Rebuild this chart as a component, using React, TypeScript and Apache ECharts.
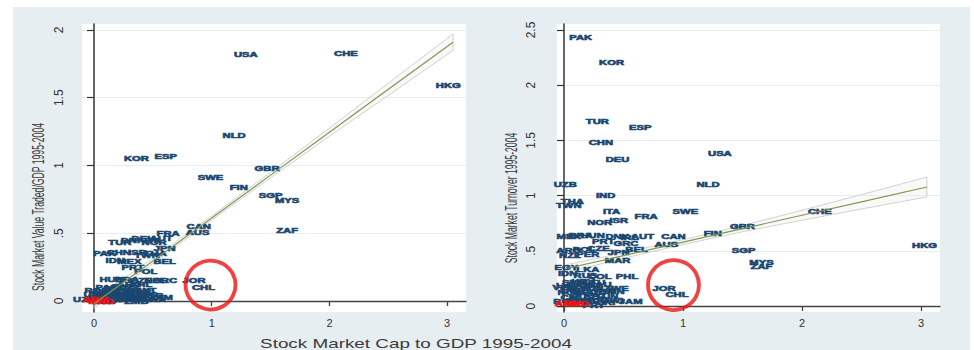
import React, { useEffect, useRef } from "react";
import * as echarts from "echarts";

// ---------- Data ----------
// Left panel: Stock Market Cap to GDP (x) vs Value Traded / GDP (y)
const leftCodes = [
  "USA","CHE","HKG","NLD","KOR","ESP","GBR","SWE","FIN","SGP","MYS","ZAF","CAN","AUS","FRA",
  "TUR","DNK","DEU","ITA","AUT","NOR","JPN","PAK","CHN","ISR","TWN","THA","IDN","MEX","BEL",
  "PRT","POL","HUN","BRA","CZE","NZL","GRC","JOR","CHL","PHL","ARG","PER","COL","EGY","MAR",
  "RUS","VEN","TTO","LKA","KEN","ZWE","JAM","NGA","BGD","GHA","MUS","CIV","NPL","ECU","UZB",
  "SVK","SVN","HRV","LTU","LVA","EST","ROM","BGR","UKR","KAZ","TUN","OMN","KWT","SAU","URY",
  "PAN","CRI","SLV","PRY","MWI","ZMB","TZA","MNG","BWA"
];
const leftCap = [
  1.29,2.14,3.01,1.19,0.36,0.61,1.47,0.99,1.23,1.50,1.64,1.64,0.89,0.88,0.63,
  0.22,0.33,0.42,0.50,0.57,0.51,0.60,0.09,0.21,0.37,0.45,0.52,0.18,0.30,0.60,
  0.33,0.44,0.15,0.28,0.40,0.52,0.60,0.85,0.93,0.40,0.30,0.18,0.23,0.30,0.38,
  0.28,0.14,0.45,0.12,0.30,0.38,0.57,0.20,0.06,0.14,0.25,0.12,0.03,0.08,-0.08,
  0.05,0.10,0.16,0.04,0.09,0.20,0.03,0.14,0.22,0.26,0.18,0.35,0.42,0.33,0.01,
  0.11,0.07,0.24,0.16,0.27,0.36,0.44,0.48,0.50
];
const leftTraded = [
  1.82,1.83,1.59,1.22,1.05,1.07,0.98,0.91,0.84,0.78,0.74,0.52,0.553,0.51,0.50,
  0.43,0.45,0.46,0.45,0.46,0.43,0.39,0.35,0.36,0.36,0.34,0.35,0.30,0.29,0.29,
  0.25,0.22,0.16,0.16,0.15,0.15,0.155,0.155,0.10,0.12,0.12,0.09,0.07,0.08,0.07,
  0.10,0.05,0.05,0.04,0.03,0.03,0.03,0.02,0.01,0.02,0.04,0.00,0.01,0.00,0.01,
  0.06,0.07,0.06,0.03,0.02,0.05,0.08,0.04,0.02,0.06,0.01,0.05,0.08,0.02,0.05,
  0.10,0.04,0.11,0.01,0.01,0.00,0.02,0.04,0.01
];
const leftRedCodes = ["ARM","MKD"];
const leftRedCap = [0.01,0.06];
const leftRedTraded = [0.01,0.0];

// Right panel: Stock Market Cap to GDP (x) vs Turnover (y)
const rightCodes = [
  "PAK","KOR","TUR","ESP","CHN","DEU","USA","UZB","NLD","IND","THA","TWN","ITA","SWE","FRA",
  "NOR","ISR","CHE","GBR","FIN","CAN","MEX","HUN","BRA","DNK","IRL","AUT","PRT","GRC","AUS",
  "HKG","SGP","ARG","POL","CZE","JPN","BEL","NZL","PER","MYS","ZAF","MAR","EGY","IDN","LKA",
  "PHL","RUS","COL","VEN","KEN","TTO","SLV","ZWE","JOR","CHL","NGA","BGD","GHA","CIV","MUS",
  "ECU","SVK","JAM","SVN","HRV","LTU","LVA","EST","ROM","BGR","UKR","KAZ","TUN","OMN","KWT",
  "SAU","PAN","CRI","PRY","MWI"
];
const rightCap = [
  0.14,0.40,0.28,0.64,0.31,0.45,1.31,0.01,1.21,0.35,0.07,0.04,0.40,1.02,0.69,
  0.30,0.46,2.15,1.50,1.25,0.92,0.04,0.24,0.14,0.45,0.55,0.66,0.33,0.52,0.86,
  3.03,1.51,0.04,0.17,0.29,0.46,0.61,0.05,0.20,1.66,1.66,0.45,0.02,0.03,0.20,
  0.53,0.18,0.30,0.00,0.12,0.22,0.33,0.44,0.84,0.95,0.05,0.18,0.32,0.05,0.15,
  0.27,0.12,0.56,0.08,0.16,0.26,0.02,0.10,0.02,0.20,0.08,0.26,0.36,0.40,0.20,
  0.30,0.13,0.35,0.25,0.40
];
const rightTurnover = [
  2.43,2.21,1.67,1.62,1.48,1.33,1.38,1.10,1.10,1.00,0.95,0.91,0.86,0.86,0.81,
  0.76,0.78,0.86,0.72,0.66,0.63,0.63,0.64,0.64,0.63,0.62,0.63,0.59,0.57,0.56,
  0.55,0.50,0.50,0.51,0.52,0.49,0.51,0.46,0.47,0.40,0.36,0.41,0.35,0.30,0.33,
  0.27,0.28,0.27,0.17,0.16,0.16,0.16,0.16,0.16,0.11,0.12,0.12,0.13,0.08,0.08,
  0.05,0.05,0.04,0.21,0.22,0.21,0.19,0.03,0.04,0.04,0.14,0.10,0.09,0.13,0.19,
  0.20,0.20,0.03,0.01,0.05
];
const rightRedCodes = ["ARM","MKD"];
const rightRedCap = [0.03,0.10];
const rightRedTurnover = [0.02,0.02];

// Fitted lines with confidence bands
const fitX = [0.0, 0.5, 1.0, 1.5, 2.0, 2.5, 3.05];
const leftFit = [-0.02, 0.296, 0.613, 0.929, 1.246, 1.562, 1.91];
const leftUpper = [0.015, 0.316, 0.628, 0.949, 1.276, 1.607, 1.97];
const leftLower = [-0.055, 0.276, 0.598, 0.909, 1.216, 1.517, 1.85];
const rightFitX = [0.03, 0.5, 1.0, 1.5, 2.0, 2.5, 3.05];
const rightFit = [0.342, 0.457, 0.579, 0.701, 0.822, 0.944, 1.078];
const rightUpper = [0.377, 0.482, 0.601, 0.729, 0.867, 1.009, 1.168];
const rightLower = [0.307, 0.432, 0.557, 0.673, 0.777, 0.879, 0.988];

// Highlight circles (around JOR / CHL)
const leftCircle = [0.99, 0.118];
const rightCircle = [0.92, 0.19];

const xTicks = [0, 1, 2, 3];
const leftYTicks = [0, 0.5, 1, 1.5, 2];
const rightYTicks = [0, 0.5, 1, 1.5, 2, 2.5];

const xTitle = "Stock Market Cap to GDP 1995-2004";
const leftYTitle = "Stock Market Value Traded/GDP 1995-2004";
const rightYTitle = "Stock Market Turnover 1995-2004";

// ---------- Styling ----------
const NAVY = "#1a476f";
const RED = "#ee1111";
const GREEN = "#7d9a4f";
const FONT = "'Liberation Sans', Arial, sans-serif";

function fmtTick(v: number) {
  const s = String(v);
  return s.startsWith("0.") ? s.slice(1) : s;
}

function labelSeries(idx: number, codes: string[], xs: number[], ys: number[], color: string) {
  return {
    type: "custom",
    xAxisIndex: idx,
    yAxisIndex: idx,
    clip: false,
    z: 3,
    data: xs.map((x, i) => [x, ys[i]]),
    encode: { x: 0, y: 1 },
    renderItem: (params: any, api: any) => {
      const p = api.coord([api.value(0), api.value(1)]);
      return {
        type: "text",
        x: p[0],
        y: p[1],
        scaleX: 1.5,
        scaleY: 0.95,
        style: {
          text: codes[params.dataIndex],
          fill: color,
          stroke: color,
          lineWidth: 0.6,
          fontSize: 7.5,
          fontWeight: "bold",
          fontFamily: FONT,
          align: "center",
          verticalAlign: "middle",
        },
      };
    },
  };
}

function bandSeries(idx: number, xs: number[], up: number[], lo: number[]) {
  return {
    type: "custom",
    xAxisIndex: idx,
    yAxisIndex: idx,
    z: 2,
    data: [[xs[0], up[0]]],
    encode: { x: 0, y: 1 },
    renderItem: (_p: any, api: any) => {
      const top = xs.map((x, i) => api.coord([x, up[i]]));
      const bot = xs.map((x, i) => api.coord([x, lo[i]])).reverse();
      return {
        type: "polygon",
        shape: { points: top.concat(bot) },
        style: { fill: "rgba(235,235,235,0.3)", stroke: "#c6c6c6", lineWidth: 0.8 },
      };
    },
  };
}

function fitSeries(idx: number, xs: number[], ys: number[]) {
  return {
    type: "line",
    xAxisIndex: idx,
    yAxisIndex: idx,
    z: 4,
    symbol: "none",
    data: xs.map((x, i) => [x, ys[i]]),
    lineStyle: { color: GREEN, width: 1.2 },
  };
}

function circleSeries(idx: number, c: number[], size: number[]) {
  return {
    type: "scatter",
    xAxisIndex: idx,
    yAxisIndex: idx,
    z: 5,
    symbol: "circle",
    symbolSize: size,
    data: [c],
    itemStyle: { color: "rgba(0,0,0,0)", borderColor: RED, borderWidth: 3.8 },
  };
}

function xAxis(idx: number, min: number, max: number) {
  return {
    type: "value",
    gridIndex: idx,
    min,
    max,
    axisLine: { show: true, lineStyle: { color: "#444", width: 1.3 } },
    axisTick: { show: true, customValues: xTicks, length: 5, lineStyle: { color: "#444", width: 1.3 } },
    axisLabel: { customValues: xTicks, fontSize: 11, color: "#333", margin: 5, fontFamily: FONT },
    splitLine: { show: false },
  };
}

function yAxis(idx: number, min: number, max: number, ticks: number[], margin: number) {
  return {
    type: "value",
    gridIndex: idx,
    min,
    max,
    axisLine: { show: true, lineStyle: { color: "#333", width: 1.5 } },
    axisTick: { show: true, customValues: ticks, length: 7, lineStyle: { color: "#333", width: 1.2 } },
    axisLabel: {
      customValues: ticks,
      rotate: 90,
      fontSize: 12,
      color: "#333",
      margin,
      fontFamily: FONT,
      formatter: (v: number) => fmtTick(v),
    },
    splitLine: { show: true, lineStyle: { color: "#e6eef1", width: 1 } },
  };
}

export default function App() {
  const ref = useRef<HTMLDivElement>(null);

  useEffect(() => {
    if (!ref.current) return;
    const chart = echarts.init(ref.current, undefined, { renderer: "svg" });
    chart.setOption({
      animation: false,
      backgroundColor: "transparent",
      grid: [
        { left: 82, top: 24, width: 384, height: 288, show: true, backgroundColor: "#ffffff", borderWidth: 0, outerBoundsMode: "none" },
        { left: 557, top: 24, width: 383, height: 288, show: true, backgroundColor: "#ffffff", borderWidth: 0, outerBoundsMode: "none" },
      ],
      xAxis: [xAxis(0, -0.102, 3.16), xAxis(1, -0.059, 3.16)],
      yAxis: [yAxis(0, -0.081, 2.044, leftYTicks, 17), yAxis(1, -0.054, 2.554, rightYTicks, 20)],
      series: [
        bandSeries(0, fitX, leftUpper, leftLower),
        labelSeries(0, leftCodes, leftCap, leftTraded, NAVY),
        labelSeries(0, leftRedCodes, leftRedCap, leftRedTraded, RED),
        fitSeries(0, fitX, leftFit),
        circleSeries(0, leftCircle, [50, 49]),
        bandSeries(1, rightFitX, rightUpper, rightLower),
        labelSeries(1, rightCodes, rightCap, rightTurnover, NAVY),
        labelSeries(1, rightRedCodes, rightRedCap, rightRedTurnover, RED),
        fitSeries(1, rightFitX, rightFit),
        circleSeries(1, rightCircle, [51, 50]),
      ],
      graphic: [
        {
          type: "text",
          x: 416,
          y: 343,
          scaleX: 1.45,
          scaleY: 1,
          style: { text: xTitle, fontSize: 13, fontFamily: FONT, fill: "#3a3a3a", align: "center", verticalAlign: "middle" },
        },
        {
          type: "text",
          x: 39,
          y: 207,
          rotation: Math.PI / 2,
          scaleX: 0.72,
          scaleY: 1.3,
          style: { text: leftYTitle, fontSize: 12, fontFamily: FONT, fill: "#3a3a3a", align: "center", verticalAlign: "middle" },
        },
        {
          type: "text",
          x: 512,
          y: 198,
          rotation: Math.PI / 2,
          scaleX: 0.72,
          scaleY: 1.3,
          style: { text: rightYTitle, fontSize: 12, fontFamily: FONT, fill: "#3a3a3a", align: "center", verticalAlign: "middle" },
        },
      ],
    });
    return () => chart.dispose();
  }, []);

  return (
    <div style={{ position: "fixed", left: 0, top: 0, width: 974, height: 350, background: "#ffffff" }}>
      <div style={{ position: "absolute", left: 13, top: 7, width: 957, height: 343, background: "#e7eef1" }} />
      <div ref={ref} style={{ position: "absolute", left: 0, top: 0, width: 974, height: 350 }} />
    </div>
  );
}
